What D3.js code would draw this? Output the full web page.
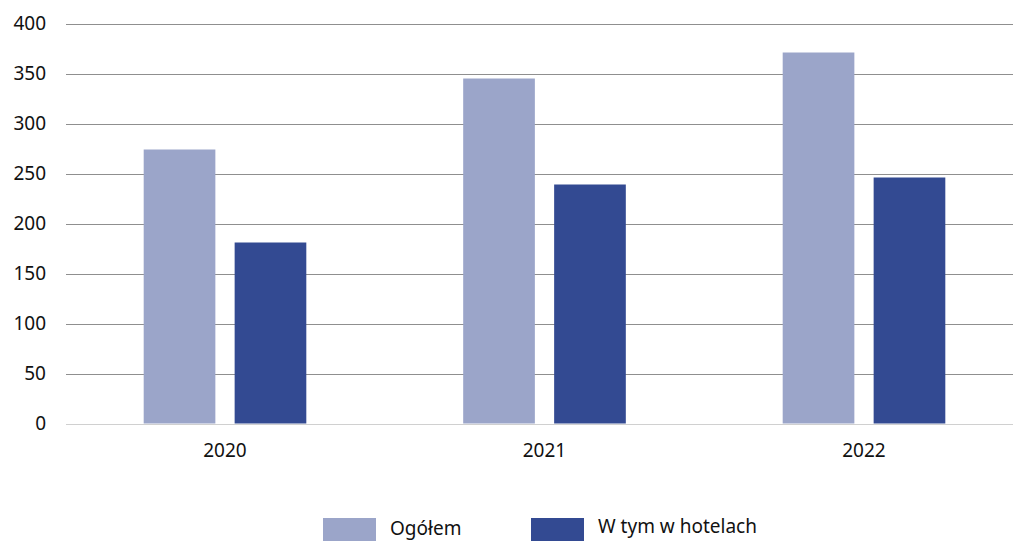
<!DOCTYPE html>
<html>
<head>
<meta charset="utf-8">
<script src="https://cdn.jsdelivr.net/npm/d3@7"></script>
<style>
  body { margin: 0; background: #fff; }
  svg { display: block; font-family: "Noto Sans", "Open Sans", sans-serif; }
</style>
</head>
<body>
<svg></svg>
<script>
var width = 1013;
var height = 541;

// data
var years = ["2020", "2021", "2022"];
var series = ["Ogółem", "W tym w hotelach"];
var ogolem = [274, 345, 371];
var hotele = [181, 239, 246];
var yTicks = [0, 50, 100, 150, 200, 250, 300, 350, 400];
var colors = ["#9ba5c9", "#334a92"];

var data = years.map(function(y, i){
    return {year: y, values: [ogolem[i], hotele[i]]};
});

var svg = d3.select("svg")
    .attr("width", width)
    .attr("height", height);

//Scales
var yScale = d3.scaleLinear().domain([0, 400]).range([423.5, 23.5]);

var x0 = d3.scaleBand().domain(years)
    .range([65.25, 1023.75])
    .paddingInner(0.491)
    .paddingOuter(0.2455);

var x1 = d3.scaleBand().domain(series)
    .range([0, x0.bandwidth()])
    .paddingInner(0.212)
    .paddingOuter(0);

// gridlines
svg.append("g").selectAll("line")
    .data(yTicks)
    .enter().append("line")
    .attr("x1", 66)
    .attr("x2", width)
    .attr("y1", d => Math.round(yScale(d)) + 0.5)
    .attr("y2", d => Math.round(yScale(d)) + 0.5)
    .attr("stroke", d => d === 0 ? "#d0d0d0" : "#8f8f8f")
    .attr("stroke-width", 1);

// y labels
svg.append("g").selectAll("text")
    .data(yTicks)
    .enter().append("text")
    .attr("x", 46)
    .attr("y", d => yScale(d))
    .attr("dy", "0.35em")
    .attr("text-anchor", "end")
    .attr("font-size", 19)
    .attr("fill", "#111")
    .text(d => d);

// bars
var groups = svg.append("g").selectAll("g")
    .data(data)
    .enter().append("g")
    .attr("transform", d => "translate(" + [x0(d.year), 0] + ")");

groups.selectAll("rect")
    .data(d => d.values.map((v, i) => ({key: series[i], value: v, idx: i})))
    .enter().append("rect")
    .attr("x", d => x1(d.key))
    .attr("width", x1.bandwidth())
    .attr("y", d => yScale(d.value))
    .attr("height", d => yScale(0) - yScale(d.value))
    .attr("fill", d => colors[d.idx]);

// x labels
svg.append("g").selectAll("text")
    .data(years)
    .enter().append("text")
    .attr("x", d => x0(d) + x0.bandwidth() / 2)
    .attr("y", 457)
    .attr("text-anchor", "middle")
    .attr("font-size", 19)
    .attr("fill", "#111")
    .text(d => d);

// legend
var legendX = [323, 531];
var legendTextY = [535, 533];
var legend = svg.append("g").selectAll("g")
    .data(series)
    .enter().append("g");

legend.append("rect")
    .attr("x", (d, i) => legendX[i])
    .attr("y", 518)
    .attr("width", 53)
    .attr("height", 24)
    .attr("fill", (d, i) => colors[i]);

legend.append("text")
    .attr("x", (d, i) => legendX[i] + 67)
    .attr("y", (d, i) => legendTextY[i])
    .attr("font-size", 19)
    .attr("fill", "#111")
    .text(d => d);
</script>
</body>
</html>
